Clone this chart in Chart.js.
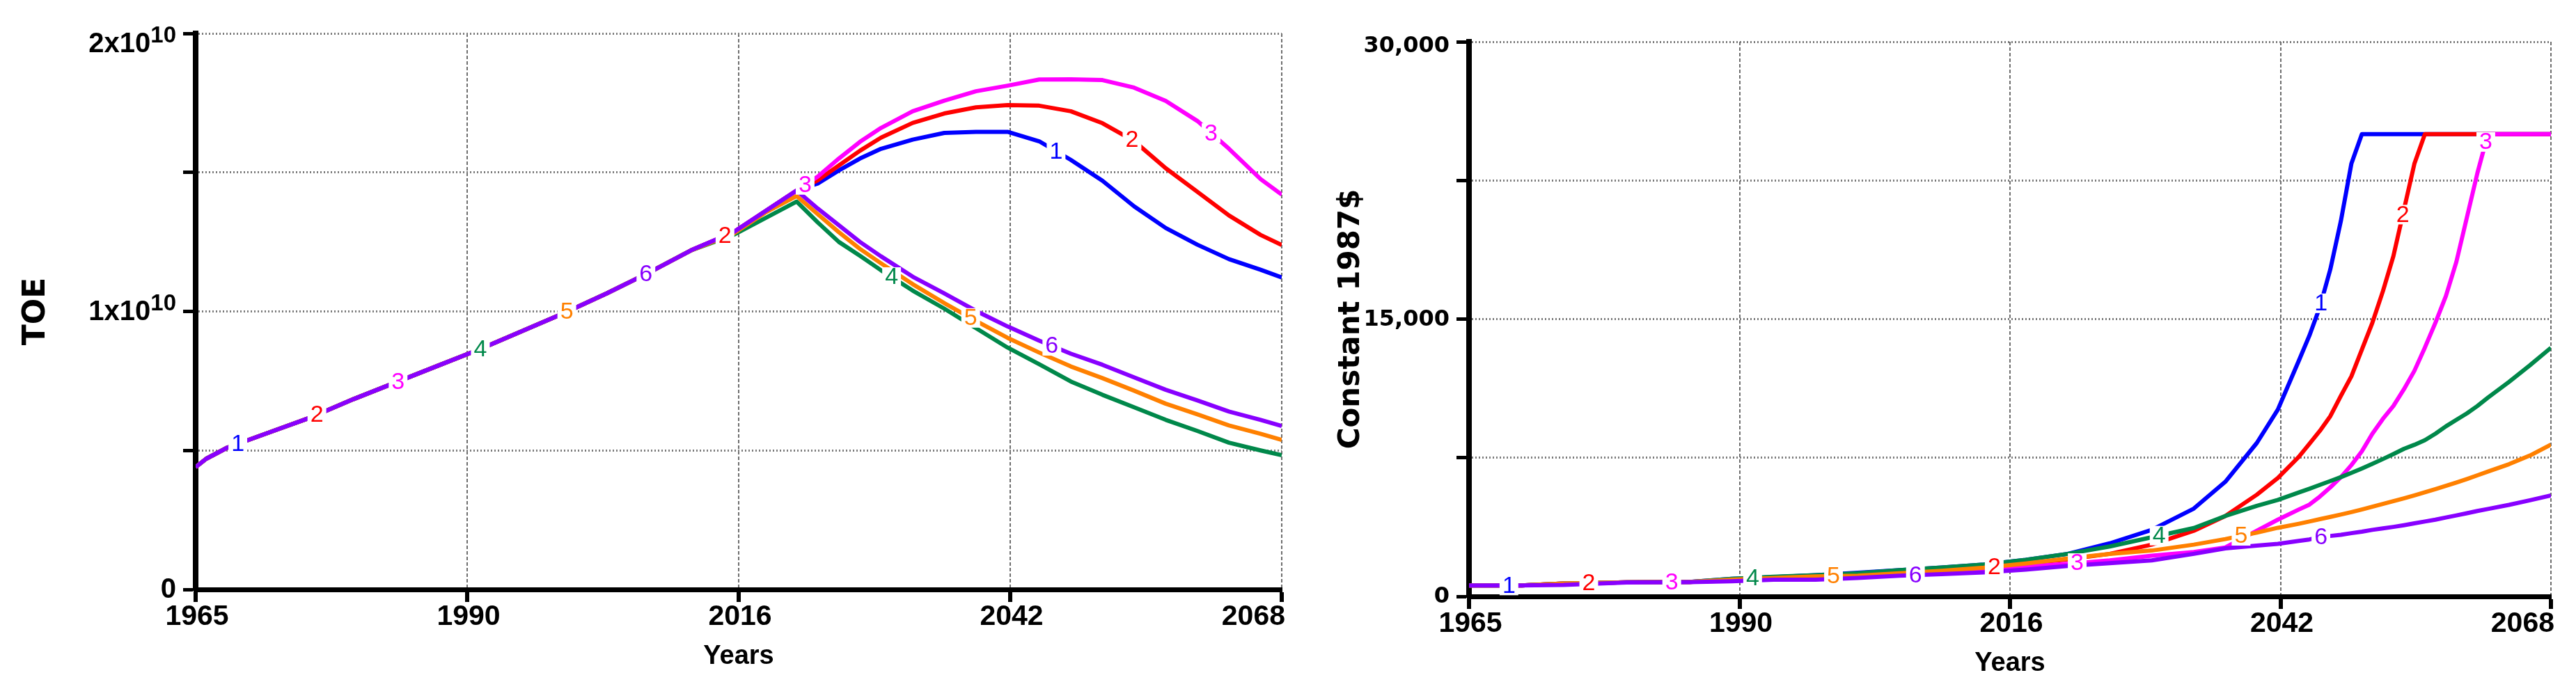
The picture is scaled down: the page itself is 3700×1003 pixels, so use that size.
<!DOCTYPE html>
<html lang="en">
  <head>
    <meta charset="utf-8" />
    <title>TOE and Constant 1987$ runs</title>
    <style>
      html, body { margin: 0; padding: 0; background: #fff; }
      body { width: 3700px; height: 1003px; position: relative; overflow: hidden; }
      canvas { position: absolute; top: 0; }
      #toeChart { left: 0; }
      #priceChart { left: 1880px; }
    </style>
  </head>
  <body>
    <canvas id="toeChart" width="1880" height="1003"></canvas>
    <canvas id="priceChart" width="1820" height="1003"></canvas>
    <script src="https://cdn.jsdelivr.net/npm/chart.js@4.4.1/dist/chart.umd.min.js"></script>
    <script>
      // x axis: Vensim splits 1965..2068 in four equal parts and truncates the labels
      const xTickValues = [1965, 1990.75, 2016.5, 2042.25, 2068];
      const xTickLabels = ['1965', '1990', '2016', '2042', '2068'];

      const runNumbers = [1, 2, 3, 4, 5, 6];
      const runColors = ['#0000ff', '#ff0000', '#ff00ff', '#00884a', '#ff8000', '#8800ff'];
      const runOrder = [5, 4, 3, 2, 1, 0]; // run 6 drawn on top

      // Left chart: TOE, values in units of 1e10
      const toeUnit = 1e10;
      const toeYears = [1965, 1966, 1968, 1972, 1976, 1980, 1984, 1988, 1992, 1996, 2000, 2004, 2008, 2012,
        2016, 2019, 2022, 2024, 2026, 2028, 2030, 2033, 2036, 2039, 2042, 2045, 2048, 2051, 2054, 2057, 2060, 2063, 2066, 2068];
      const toeRun1 = [0.44, 0.47, 0.51, 0.565, 0.62, 0.685, 0.745, 0.805, 0.865, 0.93, 0.995, 1.065, 1.14, 1.22,
        1.285, 1.36, 1.435, 1.46, 1.507, 1.55, 1.585, 1.618, 1.642, 1.646, 1.646, 1.612, 1.545, 1.47, 1.378, 1.3, 1.24, 1.188, 1.15, 1.122];
      const toeRun2 = [0.44, 0.47, 0.51, 0.565, 0.62, 0.685, 0.745, 0.805, 0.865, 0.93, 0.995, 1.065, 1.14, 1.22,
        1.285, 1.36, 1.435, 1.472, 1.525, 1.578, 1.625, 1.678, 1.712, 1.734, 1.742, 1.74, 1.72, 1.677, 1.613, 1.515, 1.43, 1.345, 1.275, 1.239];
      const toeRun3 = [0.44, 0.47, 0.51, 0.565, 0.62, 0.685, 0.745, 0.805, 0.865, 0.93, 0.995, 1.065, 1.14, 1.22,
        1.285, 1.36, 1.435, 1.485, 1.55, 1.61, 1.66, 1.72, 1.758, 1.792, 1.812, 1.834, 1.835, 1.832, 1.805, 1.757, 1.685, 1.585, 1.476, 1.42];
      const toeRun4 = [0.44, 0.47, 0.51, 0.565, 0.62, 0.685, 0.745, 0.805, 0.865, 0.93, 0.995, 1.065, 1.14, 1.22,
        1.275, 1.335, 1.395, 1.32, 1.25, 1.2, 1.148, 1.075, 1.01, 0.94, 0.87, 0.81, 0.748, 0.7, 0.655, 0.61, 0.57, 0.528, 0.5, 0.483];
      const toeRun5 = [0.44, 0.47, 0.51, 0.565, 0.62, 0.685, 0.745, 0.805, 0.865, 0.93, 0.995, 1.065, 1.14, 1.22,
        1.28, 1.355, 1.415, 1.35, 1.285, 1.225, 1.173, 1.098, 1.03, 0.966, 0.905, 0.852, 0.802, 0.76, 0.715, 0.668, 0.63, 0.59, 0.56, 0.538];
      const toeRun6 = [0.44, 0.47, 0.51, 0.565, 0.62, 0.685, 0.745, 0.805, 0.865, 0.93, 0.995, 1.065, 1.14, 1.22,
        1.285, 1.36, 1.435, 1.37, 1.31, 1.25, 1.198, 1.125, 1.065, 1.002, 0.946, 0.895, 0.848, 0.808, 0.763, 0.718, 0.68, 0.64, 0.61, 0.588];
      const toeTickValues = [0, 1e10, 2e10];
      const toeTickText = ['0', '1x10', '2x10'];
      const toeTickExp = ['', '10', '10'];
      // [run, year] where Vensim writes the run number on its line
      const toeMarks = [[1, 1969], [2, 1976.5], [3, 1984.2], [4, 1992], [5, 2000.2], [6, 2007.7], [2, 2015.2],
        [3, 2022.8], [4, 2031], [5, 2038.5], [6, 2046.2], [1, 2046.6], [2, 2053.8], [3, 2061.3]];

      // Right chart: Constant 1987$
      const priceYears = [1965, 1970, 1974, 1980, 1986, 1990, 1994, 1998, 2002, 2006, 2010, 2014, 2018, 2022, 2026,
        2030, 2034, 2037, 2040, 2042, 2044, 2045, 2046, 2047, 2048, 2049, 2050, 2051, 2052, 2053, 2054, 2055, 2056,
        2057, 2058, 2059, 2060, 2061, 2062, 2064, 2066, 2068];
      const priceRun1 = [590, 590, 700, 760, 780, 950, 1040, 1150, 1280, 1420, 1560, 1720, 1980, 2300, 2870,
        3600, 4750, 6200, 8300, 10100, 12750, 14100, 15650, 17700, 20300, 23400, 25000, 25000, 25000, 25000, 25000, 25000, 25000,
        25000, 25000, 25000, 25000, 25000, 25000, 25000, 25000, 25000];
      const priceRun2 = [590, 590, 700, 760, 780, 880, 980, 1040, 1100, 1220, 1340, 1520, 1780, 2000, 2300,
        2800, 3550, 4350, 5500, 6400, 7550, 8250, 8950, 9750, 10850, 11900, 13350, 14800, 16500, 18400, 20900, 23400, 25000,
        25000, 25000, 25000, 25000, 25000, 25000, 25000, 25000, 25000];
      const priceRun3 = [590, 590, 700, 760, 780, 860, 960, 1000, 1060, 1150, 1250, 1420, 1620, 1760, 1950,
        2200, 2400, 2650, 3550, 4150, 4700, 4960, 5400, 5900, 6450, 7100, 7850, 8800, 9600, 10300, 11200, 12200, 13460,
        14800, 16250, 18100, 20500, 22900, 25000, 25000, 25000, 25000];
      const priceRun4 = [590, 590, 700, 760, 780, 950, 1060, 1150, 1250, 1420, 1560, 1720, 1980, 2300, 2700,
        3200, 3700, 4350, 4900, 5220, 5620, 5820, 6030, 6240, 6450, 6680, 6920, 7170, 7430, 7700, 7980, 8200, 8450,
        8800, 9200, 9550, 9900, 10300, 10750, 11600, 12500, 13450];
      const priceRun5 = [590, 590, 700, 760, 780, 900, 1000, 1080, 1120, 1250, 1380, 1550, 1780, 2050, 2300,
        2480, 2800, 3100, 3450, 3710, 3930, 4050, 4180, 4300, 4430, 4560, 4700, 4850, 5000, 5150, 5300, 5460, 5630,
        5800, 5980, 6160, 6350, 6550, 6750, 7150, 7620, 8210];
      const priceRun6 = [590, 590, 620, 750, 770, 820, 900, 900, 1000, 1120, 1200, 1300, 1450, 1650, 1800,
        1950, 2300, 2600, 2750, 2840, 3000, 3080, 3200, 3270, 3330, 3420, 3500, 3600, 3680, 3760, 3850, 3950, 4050,
        4150, 4270, 4380, 4500, 4620, 4730, 4950, 5200, 5460];
      const priceTickValues = [0, 15000, 30000];
      const priceTickText = ['0', '15,000', '30,000'];
      const priceTickExp = ['', '', ''];
      const priceMarks = [[1, 1968.8], [2, 1976.4], [3, 1984.3], [4, 1992], [5, 1999.7], [6, 2007.5], [2, 2015],
        [3, 2022.9], [4, 2030.7], [5, 2038.5], [6, 2046.1], [1, 2046.1], [2, 2053.9], [3, 2061.8]];

      function valueAt(points, yr) {
        for (let i = 1; i < points.length; i++) {
          if (yr <= points[i].x) {
            const t = (yr - points[i - 1].x) / (points[i].x - points[i - 1].x);
            return points[i - 1].y + t * (points[i].y - points[i - 1].y);
          }
        }
        return points[points.length - 1].y;
      }

      // run numbers written on the lines, with a small white gap
      function runLabels(marks) {
        return {
          id: 'runLabels',
          afterDatasetsDraw(chart) {
            const { ctx, scales: { x, y } } = chart;
            ctx.save();
            ctx.font = '34px "Liberation Sans", Arial, sans-serif';
            ctx.textAlign = 'center';
            ctx.textBaseline = 'middle';
            marks.forEach(([n, yr]) => {
              const ds = chart.data.datasets[n - 1];
              const px = x.getPixelForValue(yr);
              const py = y.getPixelForValue(valueAt(ds.data, yr));
              const w = ctx.measureText(String(n)).width + 8;
              ctx.fillStyle = '#fff';
              ctx.fillRect(px - w / 2, py - 14, w, 28);
              ctx.fillStyle = ds.borderColor;
              ctx.fillText(String(n), px, py + 1);
            });
            ctx.restore();
          }
        };
      }

      // tick labels: last x label right-aligned, y labels with optional exponent
      function axisText(tickValues, tickText, tickExp, style) {
        return {
          id: 'axisText',
          afterDraw(chart) {
            const { ctx, chartArea: a, scales: { x, y } } = chart;
            ctx.save();
            ctx.fillStyle = '#000';
            ctx.textBaseline = 'middle';
            ctx.font = 'bold 41px "Liberation Sans", Arial, sans-serif';
            xTickValues.forEach((v, i) => {
              const last = i === xTickValues.length - 1;
              ctx.textAlign = last ? 'right' : 'center';
              ctx.fillText(xTickLabels[i], x.getPixelForValue(v) + (last ? 5 : 2), a.bottom + 40);
            });
            ctx.textAlign = 'right';
            tickValues.forEach((v, i) => {
              const py = Math.max(y.getPixelForValue(v) + 1, a.top + style.topInset);
              let right = a.left - 28;
              if (tickExp[i]) {
                ctx.font = style.expFont;
                ctx.fillText(tickExp[i], right, py - 12);
                right -= ctx.measureText(tickExp[i]).width;
              }
              ctx.font = style.font;
              ctx.fillText(tickText[i], right, py);
            });
            ctx.restore();
          }
        };
      }

      function buildChart(id, o) {
        const datasets = runNumbers.map((n, i) => ({
          label: String(n),
          data: o.years.map((yr, j) => ({ x: yr, y: o.runs[i][j] * o.unit })),
          borderColor: runColors[i],
          borderWidth: 6,
          pointRadius: 0,
          tension: 0,
          borderJoinStyle: 'round',
          order: runOrder[i]
        }));
        return new Chart(document.getElementById(id), {
          type: 'line',
          data: { datasets },
          options: {
            responsive: false,
            animation: false,
            devicePixelRatio: 1,
            layout: { padding: { top: o.top, right: o.right, bottom: 0, left: 0 } },
            plugins: { legend: { display: false }, tooltip: { enabled: false } },
            scales: {
              x: {
                type: 'linear',
                min: 1965,
                max: 2068,
                afterBuildTicks: (s) => { s.ticks = xTickValues.map((v) => ({ value: v })); },
                afterFit: (s) => { s.height = o.axisHeight; },
                ticks: { display: false },
                grid: { color: '#6e6e6e', lineWidth: 2, tickLength: 18, tickWidth: 6, tickColor: '#000', tickBorderDash: [] },
                border: { display: true, color: '#000', width: 7, dash: [5, 3] },
                title: {
                  display: true,
                  text: 'Years',
                  color: '#000',
                  font: { family: 'Liberation Sans', size: 38, weight: 'bold' },
                  padding: { top: 0, bottom: o.xTitlePad }
                }
              },
              y: {
                type: 'linear',
                min: 0,
                max: o.yMax,
                afterFit: (s) => { s.width = o.axisWidth; },
                ticks: { display: false, stepSize: o.yStep },
                grid: { color: '#7a7a7a', lineWidth: 3, tickLength: 18, tickWidth: 5, tickColor: '#000', tickBorderDash: [] },
                border: { display: true, color: '#000', width: 8, dash: [2, 3] },
                title: {
                  display: true,
                  text: o.yTitle,
                  color: '#000',
                  font: { family: 'DejaVu Sans', size: o.yTitleSize, weight: 'bold' },
                  padding: { top: o.yTitlePad, bottom: 0 }
                }
              }
            }
          },
          plugins: [runLabels(o.marks), axisText(o.tickValues, o.tickText, o.tickExp, o.tickStyle)]
        });
      }

      buildChart('toeChart', {
        years: toeYears,
        runs: [toeRun1, toeRun2, toeRun3, toeRun4, toeRun5, toeRun6],
        unit: toeUnit,
        yMax: 2e10,
        yStep: 5e9,
        top: 48,
        right: 39,
        axisWidth: 281,
        axisHeight: 156,
        xTitlePad: 37,
        yTitle: 'TOE',
        yTitleSize: 44,
        yTitlePad: 26,
        marks: toeMarks,
        tickValues: toeTickValues,
        tickText: toeTickText,
        tickExp: toeTickExp,
        tickStyle: {
          font: 'bold 40px "Liberation Sans", Arial, sans-serif',
          expFont: 'bold 33px "Liberation Sans", Arial, sans-serif',
          topInset: 16
        }
      });

      buildChart('priceChart', {
        years: priceYears,
        runs: [priceRun1, priceRun2, priceRun3, priceRun4, priceRun5, priceRun6],
        unit: 1,
        yMax: 30000,
        yStep: 7500,
        top: 60,
        right: 36,
        axisWidth: 230,
        axisHeight: 146,
        xTitlePad: 27,
        yTitle: 'Constant 1987$',
        yTitleSize: 42,
        yTitlePad: 36,
        marks: priceMarks,
        tickValues: priceTickValues,
        tickText: priceTickText,
        tickExp: priceTickExp,
        tickStyle: {
          font: 'bold 32px "DejaVu Sans", sans-serif',
          expFont: 'bold 32px "DejaVu Sans", sans-serif',
          topInset: 7
        }
      });
    </script>
  </body>
</html>
